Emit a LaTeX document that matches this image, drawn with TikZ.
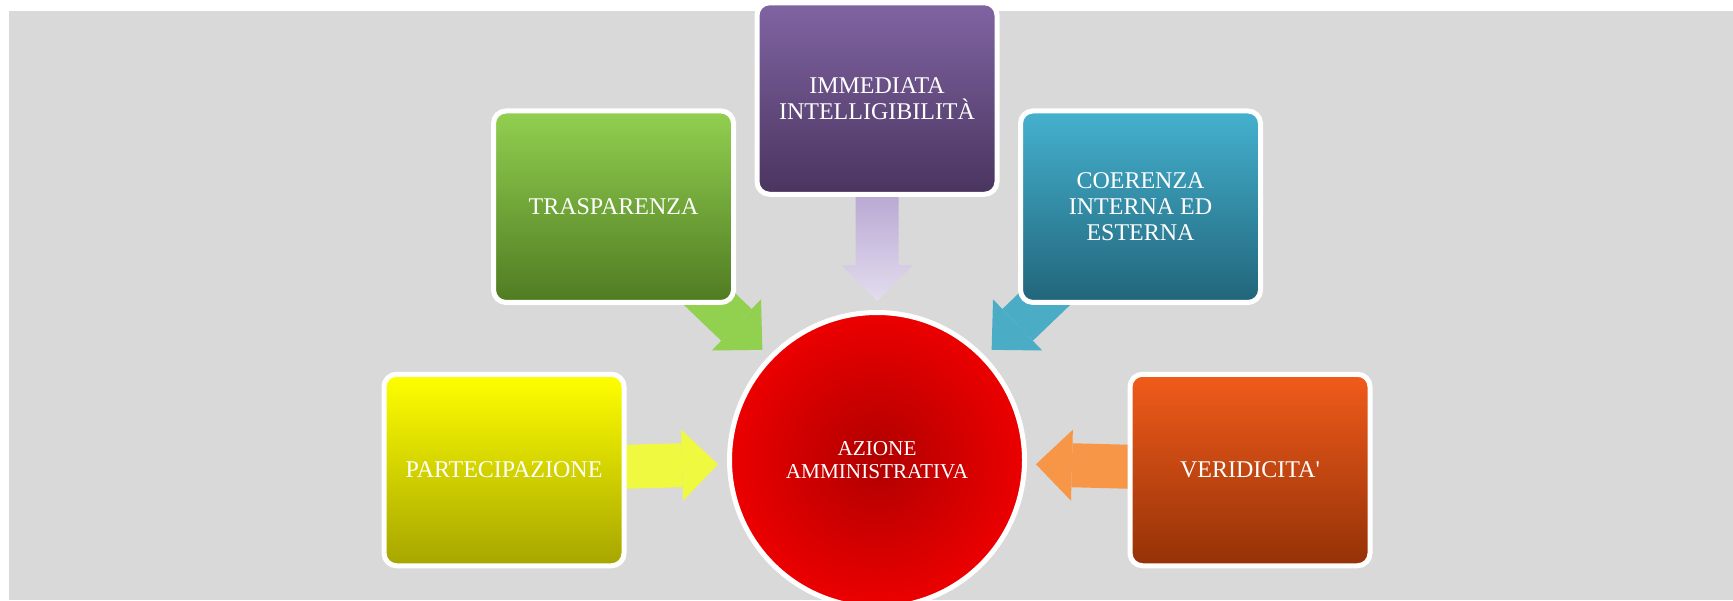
\documentclass[tikz,border=0pt]{standalone}
\usepackage{fontspec}
\setmainfont{Liberation Serif}
\usepackage{tikz}
\usetikzlibrary{shapes.geometric, arrows.meta, calc}
\definecolor{bggray}{HTML}{D9D9D9}
\definecolor{purtop}{HTML}{8064A2}
\definecolor{purbot}{HTML}{4A345F}
\definecolor{grntop}{HTML}{92D050}
\definecolor{grnbot}{HTML}{4F7B22}
\definecolor{blutop}{HTML}{45B1CF}
\definecolor{blubot}{HTML}{21657A}
\definecolor{yeltop}{HTML}{FFFF00}
\definecolor{yelbot}{HTML}{A6A500}
\definecolor{orgtop}{HTML}{F15B1B}
\definecolor{orgbot}{HTML}{943207}
\definecolor{redin}{HTML}{B00000}
\definecolor{redout}{HTML}{EC0000}
\definecolor{lavtop}{HTML}{B8A7D3}
\definecolor{lavbot}{HTML}{E3DDEE}
\definecolor{grnarr}{HTML}{92D050}
\definecolor{bluarr}{HTML}{4BACC6}
\definecolor{yelarr}{HTML}{EFF93F}
\definecolor{orgarr}{HTML}{F79646}
\pgfdeclarelayer{back}
\pgfdeclarelayer{mid}
\pgfsetlayers{back,mid,main}
\tikzstyle{box} = [rectangle, rounded corners=6.25pt, minimum width=120pt, minimum height=95.75pt, inner sep=0pt, draw=white, line width=2.5pt, text=white, align=center, font=\fontsize{12}{13}\selectfont]
\tikzstyle{arrow} = [line width=22pt, -{Triangle[length=18pt,width=35.5pt,line width=0pt]}, shorten >=4.5pt, shorten <=-12pt]

\begin{document}
\begin{tikzpicture}[x=0.5pt, y=-0.5pt]
\useasboundingbox (0,0) rectangle (1733,600);
\begin{pgfonlayer}{back}
\fill[white] (0,0) rectangle (1733,600);
\fill[bggray] (9,11) rectangle (1733,600);
\end{pgfonlayer}

% centre
\node (azione) [circle, minimum size=147.5pt, inner sep=0pt, draw=white, line width=2.5pt, inner color=redin, outer color=redout, text=white, align=center, font=\fontsize{10.6}{11.8}\selectfont] at (877,460) {AZIONE\\AMMINISTRATIVA};

% boxes
\node (imm) [box, top color=purtop, bottom color=purbot] at (877,98.5) {IMMEDIATA\\INTELLIGIBILITÀ};
\node (trasp) [box, top color=grntop, bottom color=grnbot] at (613.5,206.7) {TRASPARENZA};
\node (coer) [box, top color=blutop, bottom color=blubot] at (1140.5,206.7) {COERENZA\\INTERNA ED\\ESTERNA};
\node (part) [box, top color=yeltop, bottom color=yelbot] at (504,470) {PARTECIPAZIONE};
\node (veri) [box, top color=orgtop, bottom color=orgbot] at (1250,470) {VERIDICITA\textquotesingle};

\begin{pgfonlayer}{mid}
\draw [arrow, grnarr] (trasp) -- (azione);
\draw [arrow, bluarr] (coer) -- (azione);
\draw [arrow, yelarr] (part) -- (azione);
\draw [arrow, orgarr] (veri) -- (azione);
\coordinate (tip) at ($(azione.north)+(0,-9)$);
\shade [top color=lavtop, bottom color=lavbot] (tip) -- ($(tip)+(-35.75,-35.75)$) -- ($(tip)+(-21.5,-35.75)$) -- ($(imm.south)+(-21.5,-5)$) -- ($(imm.south)+(21.5,-5)$) -- ($(tip)+(21.5,-35.75)$) -- ($(tip)+(35.75,-35.75)$) -- cycle;
\end{pgfonlayer}
\end{tikzpicture}
\end{document}
